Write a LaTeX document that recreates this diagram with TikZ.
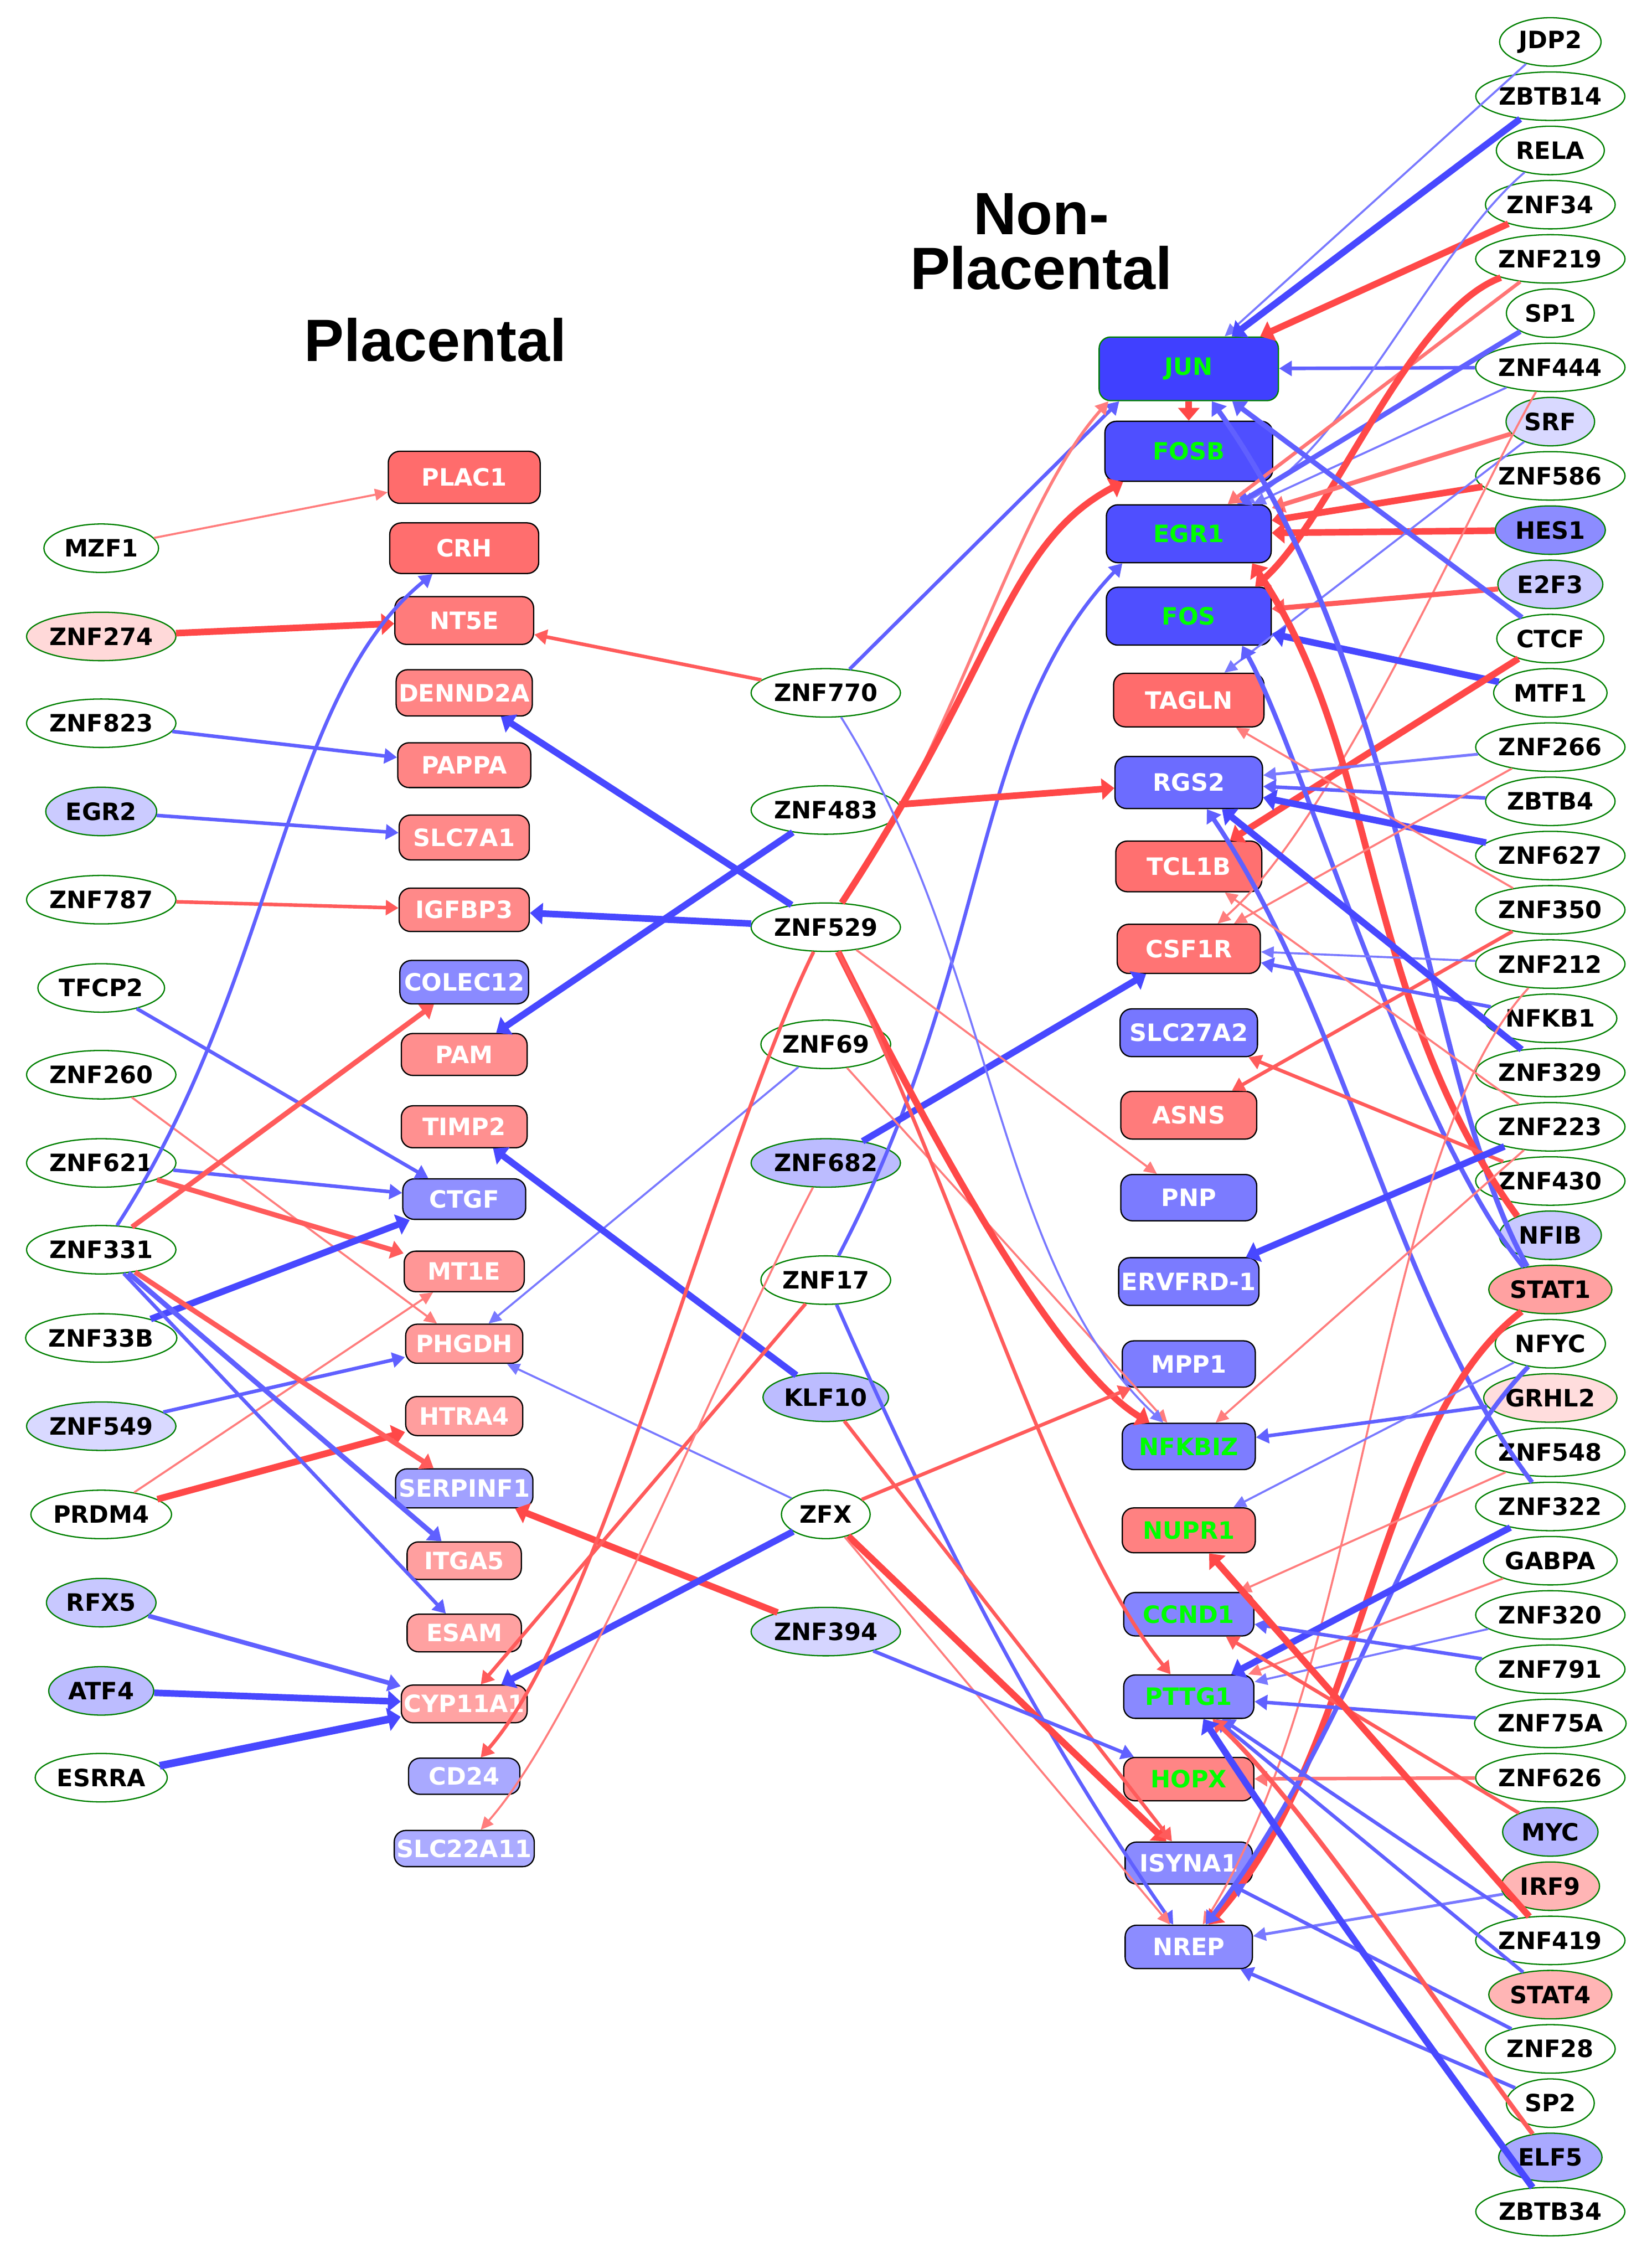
\documentclass[tikz,border=0pt]{standalone}
\usepackage{fontspec}
\setmainfont{DejaVu Sans}
\newfontfamily\titlefont{Liberation Sans}
\usetikzlibrary{shapes.geometric,arrows.meta}
\definecolor{upR}{HTML}{FF4040}
\definecolor{dnB}{HTML}{4040FF}
\definecolor{rimG}{HTML}{008000}
\definecolor{txtG}{HTML}{00FF00}
\newbox\tfbox
\begin{document}
\begin{tikzpicture}[x=0.02cm, y=-0.02cm,
  tf/.style={ellipse, draw=rimG, line width=0.5pt, fill=white, minimum height=0.67cm, inner xsep=0pt, inner ysep=0pt, font=\fontsize{9.4}{10}\selectfont\bfseries,
    execute at begin node={\setbox\tfbox=\hbox\bgroup},
    execute at end node={\egroup\hbox to\dimexpr0.834\wd\tfbox+7.6pt\relax{\hss\box\tfbox\hss}}},
  gene/.style={rectangle, rounded corners=4.5pt, draw=black, line width=0.5pt, text=white, inner xsep=1pt, inner ysep=0pt, font=\fontsize{9.4}{10}\selectfont\bfseries},
  grn/.style={text=txtG},
  arw/.style={-{Triangle[length=5pt, width=3pt 2]}},
  r1/.style={arw, draw=upR!68, line width=0.8pt},
  r2/.style={arw, draw=upR!86, line width=1.4pt},
  r3/.style={arw, draw=upR!96, line width=2.6pt},
  b1/.style={arw, draw=dnB!70, line width=0.8pt},
  b2/.style={arw, draw=dnB!83, line width=1.4pt},
  b3/.style={arw, draw=dnB!96, line width=2.6pt}]
\fill[white] (0,0) rectangle (1142,1568);
\useasboundingbox (0,0) rectangle (1142,1568);

% titles
\node[font=\titlefont\bfseries\fontsize{23.5}{21.5}\selectfont] (ttlP) at (301,235) {Placental};
\node[align=center, font=\titlefont\bfseries\fontsize{23.5}{21.5}\selectfont] (ttlN) at (720,167) {Non-\\Placental};

% left regulators
\node[tf] (MZF1) at (70,379) {MZF1};
\node[tf, fill=upR!20] (ZNF274) at (70,440) {ZNF274};
\node[tf] (ZNF823) at (70,500) {ZNF823};
\node[tf, fill=dnB!27] (EGR2) at (70,561) {EGR2};
\node[tf] (ZNF787) at (70,622) {ZNF787};
\node[tf] (TFCP2) at (70,683) {TFCP2};
\node[tf] (ZNF260) at (70,743) {ZNF260};
\node[tf] (ZNF621) at (70,804) {ZNF621};
\node[tf] (ZNF331) at (70,864) {ZNF331};
\node[tf] (ZNF33B) at (70,925) {ZNF33B};
\node[tf, fill=dnB!20] (ZNF549) at (70,986) {ZNF549};
\node[tf] (PRDM4) at (70,1047) {PRDM4};
\node[tf, fill=dnB!29] (RFX5) at (70,1108) {RFX5};
\node[tf, fill=dnB!35] (ATF4) at (70,1169) {ATF4};
\node[tf] (ESRRA) at (70,1229) {ESRRA};

% placental genes
\node[gene, fill=upR!77, minimum width=2.1cm, minimum height=0.72cm] (PLAC1) at (321,330) {PLAC1};
\node[gene, fill=upR!76, minimum width=2.06cm, minimum height=0.7cm] (CRH) at (321,379) {CRH};
\node[gene, fill=upR!69, minimum width=1.92cm, minimum height=0.66cm] (NT5E) at (321,429) {NT5E};
\node[gene, fill=upR!64, minimum width=1.86cm, minimum height=0.64cm] (DENND2A) at (321,479) {DENND2A};
\node[gene, fill=upR!64, minimum width=1.84cm, minimum height=0.62cm] (PAPPA) at (321,529) {PAPPA};
\node[gene, fill=upR!62, minimum width=1.8cm, minimum height=0.62cm] (SLC7A1) at (321,579) {SLC7A1};
\node[gene, fill=upR!62, minimum width=1.8cm, minimum height=0.6cm] (IGFBP3) at (321,629) {IGFBP3};
\node[gene, fill=dnB!61, minimum width=1.78cm, minimum height=0.6cm] (COLEC12) at (321,679) {COLEC12};
\node[gene, fill=upR!59, minimum width=1.74cm, minimum height=0.58cm] (PAM) at (321,729) {PAM};
\node[gene, fill=upR!58, minimum width=1.74cm, minimum height=0.58cm] (TIMP2) at (321,779) {TIMP2};
\node[gene, fill=dnB!58, minimum width=1.7cm, minimum height=0.56cm] (CTGF) at (321,829) {CTGF};
\node[gene, fill=upR!55, minimum width=1.66cm, minimum height=0.56cm] (MT1E) at (321,879) {MT1E};
\node[gene, fill=upR!53, minimum width=1.62cm, minimum height=0.54cm] (PHGDH) at (321,929) {PHGDH};
\node[gene, fill=upR!51, minimum width=1.62cm, minimum height=0.54cm] (HTRA4) at (321,979) {HTRA4};
\node[gene, fill=dnB!49, minimum width=1.9cm, minimum height=0.54cm] (SERPINF1) at (321,1029) {SERPINF1};
\node[gene, fill=upR!50, minimum width=1.58cm, minimum height=0.52cm] (ITGA5) at (321,1079) {ITGA5};
\node[gene, fill=upR!49, minimum width=1.58cm, minimum height=0.52cm] (ESAM) at (321,1129) {ESAM};
\node[gene, fill=upR!48, minimum width=1.74cm, minimum height=0.52cm] (CYP11A1) at (321,1178) {CYP11A1};
\node[gene, fill=dnB!45, minimum width=1.54cm, minimum height=0.5cm] (CD24) at (321,1228) {CD24};
\node[gene, fill=dnB!44, minimum width=1.9cm, minimum height=0.5cm] (SLC22A11) at (321,1278) {SLC22A11};

% middle regulators
\node[tf] (ZNF770) at (571,479) {ZNF770};
\node[tf] (ZNF483) at (571,560) {ZNF483};
\node[tf] (ZNF529) at (571,641) {ZNF529};
\node[tf] (ZNF69) at (571,722) {ZNF69};
\node[tf, fill=dnB!35] (ZNF682) at (571,804) {ZNF682};
\node[tf] (ZNF17) at (571,885) {ZNF17};
\node[tf, fill=dnB!35] (KLF10) at (571,966) {KLF10};
\node[tf] (ZFX) at (571,1047) {ZFX};
\node[tf, fill=dnB!22] (ZNF394) at (571,1128) {ZNF394};

% non-placental genes
\node[gene, grn, fill=dnB, draw=rimG, minimum width=2.48cm, minimum height=0.88cm] (JUN) at (822,255) {JUN};
\node[gene, grn, fill=dnB!92, minimum width=2.32cm, minimum height=0.83cm] (FOSB) at (822,312) {FOSB};
\node[gene, grn, fill=dnB!92, minimum width=2.28cm, minimum height=0.8cm] (EGR1) at (822,369) {EGR1};
\node[gene, grn, fill=dnB!92, minimum width=2.28cm, minimum height=0.8cm] (FOS) at (822,426) {FOS};
\node[gene, fill=upR!77, minimum width=2.08cm, minimum height=0.74cm] (TAGLN) at (822,484) {TAGLN};
\node[gene, fill=dnB!77, minimum width=2.04cm, minimum height=0.72cm] (RGS2) at (822,541) {RGS2};
\node[gene, fill=upR!75, minimum width=2.02cm, minimum height=0.7cm] (TCL1B) at (822,599) {TCL1B};
\node[gene, fill=upR!73, minimum width=1.98cm, minimum height=0.68cm] (CSF1R) at (822,656) {CSF1R};
\node[gene, fill=dnB!71, minimum width=1.9cm, minimum height=0.66cm] (SLC27A2) at (822,714) {SLC27A2};
\node[gene, fill=upR!69, minimum width=1.88cm, minimum height=0.66cm] (ASNS) at (822,771) {ASNS};
\node[gene, fill=dnB!69, minimum width=1.88cm, minimum height=0.64cm] (PNP) at (822,828) {PNP};
\node[gene, fill=dnB!69, minimum width=1.94cm, minimum height=0.66cm] (ERVFRD1) at (822,886) {ERVFRD-1};
\node[gene, fill=dnB!68, minimum width=1.84cm, minimum height=0.64cm] (MPP1) at (822,943) {MPP1};
\node[gene, grn, fill=dnB!68, minimum width=1.84cm, minimum height=0.64cm] (NFKBIZ) at (822,1000) {NFKBIZ};
\node[gene, grn, fill=upR!66, minimum width=1.84cm, minimum height=0.62cm] (NUPR1) at (822,1058) {NUPR1};
\node[gene, grn, fill=dnB!64, minimum width=1.8cm, minimum height=0.6cm] (CCND1) at (822,1116) {CCND1};
\node[gene, grn, fill=dnB!62, minimum width=1.8cm, minimum height=0.6cm] (PTTG1) at (822,1173) {PTTG1};
\node[gene, grn, fill=upR!64, minimum width=1.8cm, minimum height=0.6cm] (HOPX) at (822,1230) {HOPX};
\node[gene, fill=dnB!61, minimum width=1.76cm, minimum height=0.58cm] (ISYNA1) at (822,1288) {ISYNA1};
\node[gene, fill=dnB!60, minimum width=1.76cm, minimum height=0.6cm] (NREP) at (822,1346) {NREP};

% right regulators
\node[tf] (JDP2) at (1072,29) {JDP2};
\node[tf] (ZBTB14) at (1072,66.5) {ZBTB14};
\node[tf] (RELA) at (1072,104) {RELA};
\node[tf] (ZNF34) at (1072,141.5) {ZNF34};
\node[tf] (ZNF219) at (1072,179) {ZNF219};
\node[tf] (SP1) at (1072,216.5) {SP1};
\node[tf] (ZNF444) at (1072,254) {ZNF444};
\node[tf, fill=dnB!20] (SRF) at (1072,291.5) {SRF};
\node[tf] (ZNF586) at (1072,329) {ZNF586};
\node[tf, fill=dnB!60] (HES1) at (1072,366.5) {HES1};
\node[tf, fill=dnB!27] (E2F3) at (1072,404) {E2F3};
\node[tf] (CTCF) at (1072,441.5) {CTCF};
\node[tf] (MTF1) at (1072,479) {MTF1};
\node[tf] (ZNF266) at (1072,516.5) {ZNF266};
\node[tf] (ZBTB4) at (1072,554) {ZBTB4};
\node[tf] (ZNF627) at (1072,591.5) {ZNF627};
\node[tf] (ZNF350) at (1072,629) {ZNF350};
\node[tf] (ZNF212) at (1072,666.5) {ZNF212};
\node[tf] (NFKB1) at (1072,704) {NFKB1};
\node[tf] (ZNF329) at (1072,741.5) {ZNF329};
\node[tf] (ZNF223) at (1072,779) {ZNF223};
\node[tf] (ZNF430) at (1072,816.5) {ZNF430};
\node[tf, fill=dnB!29] (NFIB) at (1072,854) {NFIB};
\node[tf, fill=upR!49] (STAT1) at (1072,891.5) {STAT1};
\node[tf] (NFYC) at (1072,929) {NFYC};
\node[tf, fill=upR!18] (GRHL2) at (1072,966.5) {GRHL2};
\node[tf] (ZNF548) at (1072,1004) {ZNF548};
\node[tf] (ZNF322) at (1072,1041.5) {ZNF322};
\node[tf] (GABPA) at (1072,1079) {GABPA};
\node[tf] (ZNF320) at (1072,1116.5) {ZNF320};
\node[tf] (ZNF791) at (1072,1154) {ZNF791};
\node[tf] (ZNF75A) at (1072,1191.5) {ZNF75A};
\node[tf] (ZNF626) at (1072,1229) {ZNF626};
\node[tf, fill=dnB!39] (MYC) at (1072,1266.5) {MYC};
\node[tf, fill=upR!39] (IRF9) at (1072,1304) {IRF9};
\node[tf] (ZNF419) at (1072,1341.5) {ZNF419};
\node[tf, fill=upR!39] (STAT4) at (1072,1379) {STAT4};
\node[tf] (ZNF28) at (1072,1416.5) {ZNF28};
\node[tf] (SP2) at (1072,1454) {SP2};
\node[tf, fill=dnB!45] (ELF5) at (1072,1491.5) {ELF5};
\node[tf] (ZBTB34) at (1072,1529) {ZBTB34};

% placental edges
\draw[r1] (MZF1) -- (PLAC1);
\draw[r3] (ZNF274) -- (NT5E);
\draw[b2] (ZNF823) -- (PAPPA);
\draw[b2] (EGR2) -- (SLC7A1);
\draw[r2] (ZNF787) -- (IGFBP3);
\draw[b2] (TFCP2) -- (CTGF);
\draw[r1] (ZNF260) -- (PHGDH);
\draw[b2] (ZNF621) -- (CTGF);
\draw[r2, line width=2pt] (ZNF621) -- (MT1E);
\draw[b2] (ZNF331) .. controls (191,678) and (196,481) .. (CRH);
\draw[r2, line width=2pt] (ZNF331) -- (COLEC12);
\draw[b3] (ZNF33B) -- (CTGF);
\draw[b2] (ZNF549) -- (PHGDH);
\draw[r1] (PRDM4) -- (MT1E);
\draw[r3] (PRDM4) -- (HTRA4);
\draw[r2, line width=2pt] (ZNF331) -- (SERPINF1);
\draw[b2, line width=2pt] (ZNF331) -- (ITGA5);
\draw[b2] (ZNF331) -- (ESAM);
\draw[b2, line width=1.8pt] (RFX5) -- (CYP11A1);
\draw[b3] (ATF4) -- (CYP11A1);
\draw[b3, line width=3pt] (ESRRA) -- (CYP11A1);
\draw[r2] (ZNF770) -- (NT5E);
\draw[b3] (ZNF529) -- (DENND2A);
\draw[b3] (ZNF529) -- (IGFBP3);
\draw[b3] (ZNF483) -- (PAM);
\draw[b1] (ZNF69) -- (PHGDH);
\draw[b3] (KLF10) -- (TIMP2);
\draw[b1] (ZFX) -- (PHGDH);
\draw[r3] (ZNF394) -- (SERPINF1);
\draw[r2] (ZNF17) -- (CYP11A1);
\draw[b3] (ZFX) -- (CYP11A1);
\draw[r2] (ZNF529) .. controls (495,795) and (416,1120) .. (CD24);
\draw[r1] (ZNF682) .. controls (492,955) and (402,1186) .. (SLC22A11);

% middle to non-placental
\draw[b2] (ZNF770) -- (JUN.205);
\draw[r1, line width=1.2pt] (ZNF483.east) .. controls (682,442) and (713,338) .. (JUN.202);
\draw[r3] (ZNF529) .. controls (691,458) and (696,376) .. (FOSB.205);
\draw[b2] (ZNF17) .. controls (686,665) and (671,500) .. (EGR1.204);
\draw[b2] (ZNF17) .. controls (642,1046) and (712,1188) .. (NREP);
\draw[b3] (ZNF682) -- (CSF1R);
\draw[r1] (ZNF529) -- (PNP);
\draw[r1] (ZNF69) -- (NFKBIZ);
\draw[r3] (ZNF529) .. controls (647,793) and (731,945) .. (NFKBIZ);
\draw[r2] (ZNF529) .. controls (661,820) and (730,1060) .. (PTTG1);
\draw[b1] (ZNF770) .. controls (689,667) and (688,875) .. (NFKBIZ);
\draw[r3] (ZNF483) -- (RGS2);
\draw[r2] (ZFX) -- (MPP1);
\draw[r3] (ZFX) -- (ISYNA1);
\draw[r1] (ZFX) -- (NREP);
\draw[r2] (KLF10) -- (ISYNA1);
\draw[b2] (ZNF394) -- (HOPX);
\draw[r3] (JUN) -- (FOSB);

% right regulators to non-placental
\draw[b1] (JDP2) -- (JUN);
\draw[b3] (ZBTB14) -- (JUN);
\draw[r3] (ZNF34) -- (JUN);
\draw[b2] (ZNF444) -- (JUN);
\draw[b1] (RELA) .. controls (991,173) and (933,307) .. (EGR1);
\draw[b2, line width=2pt] (SP1) -- (EGR1);
\draw[b1] (ZNF444) -- (EGR1);
\draw[r2, draw=upR!72] (ZNF219) -- (EGR1);
\draw[r3] (ZNF219) .. controls (974,216) and (922,357) .. (FOS.24);
\draw[r2, draw=upR!75, line width=1.8pt] (SRF) -- (EGR1);
\draw[r3] (ZNF586) -- (EGR1);
\draw[r3] (HES1) -- (EGR1);
\draw[b1] (SRF) -- (TAGLN);
\draw[r1] (ZNF444) .. controls (1020,343) and (924,567) .. (CSF1R);
\draw[r2, line width=2pt] (E2F3) -- (FOS);
\draw[b2, line width=2pt] (CTCF) -- (JUN);
\draw[b3] (MTF1) -- (FOS);
\draw[r3] (CTCF) -- (TCL1B);
\draw[b2, line width=2pt] (STAT1.135) .. controls (985,750) and (975,470) .. (JUN);
\draw[r3] (NFIB.150) .. controls (940,690) and (955,521) .. (EGR1.335);
\draw[b2, line width=1.8pt] (STAT1.140) .. controls (975,780) and (900,520) .. (FOS.331);
\draw[b1, line width=1.1pt] (ZNF266) -- (RGS2);
\draw[b2] (ZBTB4) -- (RGS2);
\draw[b3] (ZNF627) -- (RGS2);
\draw[r1] (ZNF266) -- (CSF1R);
\draw[r1] (ZNF350) -- (TAGLN);
\draw[r2] (ZNF350) -- (ASNS);
\draw[b1] (ZNF212) -- (CSF1R);
\draw[b2] (NFKB1) -- (CSF1R);
\draw[b3] (ZNF329) -- (RGS2);
\draw[b2, line width=1.8pt] (ZNF322) .. controls (965,900) and (930,700) .. (RGS2);
\draw[r2] (ZNF430) -- (SLC27A2);
\draw[b3] (ZNF223) -- (ERVFRD1);
\draw[r1] (ZNF223) -- (NFKBIZ);
\draw[r1] (ZNF223) -- (TCL1B);
\draw[r1] (ZNF212) .. controls (950,800) and (945,1150) .. (NREP);
\draw[r3] (STAT1) .. controls (950,985) and (943,1210) .. (NREP);
\draw[b2, line width=1.8pt] (NFYC) .. controls (975,1030) and (940,1190) .. (NREP);
\draw[b2] (GRHL2) -- (NFKBIZ);
\draw[b1] (NFYC) -- (NUPR1);
\draw[r1] (ZNF548) -- (CCND1);
\draw[b3] (ZNF322) -- (PTTG1);
\draw[r1] (GABPA) -- (PTTG1);
\draw[b1] (ZNF320) -- (PTTG1);
\draw[b2] (ZNF791) -- (CCND1);
\draw[b2] (ZNF75A) -- (PTTG1);
\draw[r2, draw=upR!72] (ZNF626) -- (HOPX);
\draw[r2] (MYC) -- (CCND1);
\draw[r3] (ZNF419) -- (NUPR1);
\draw[b1, line width=1.1pt] (IRF9) -- (NREP);
\draw[b2] (ZNF419) -- (PTTG1);
\draw[b2] (STAT4) -- (PTTG1);
\draw[b2] (ZNF28) -- (ISYNA1);
\draw[b2] (SP2) -- (NREP);
\draw[r2, line width=1.8pt] (ELF5) .. controls (1000,1396) and (904,1250) .. (PTTG1);
\draw[b3] (ZBTB34) .. controls (970,1390) and (892,1280) .. (PTTG1);
\end{tikzpicture}
\end{document}
